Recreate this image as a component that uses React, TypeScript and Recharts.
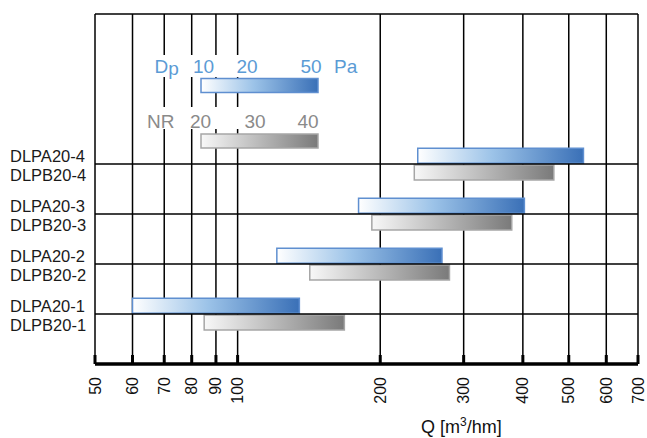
import React from "react";
import {
  Bar,
  BarChart,
  CartesianGrid,
  Cell,
  Customized,
  ReferenceLine,
  XAxis,
  YAxis,
} from "recharts";

// airflow range per damper model, Q in m3/hm (log axis)
const models = [
  "DLPA20-4",
  "DLPB20-4",
  "DLPA20-3",
  "DLPB20-3",
  "DLPA20-2",
  "DLPB20-2",
  "DLPA20-1",
  "DLPB20-1",
];
const qFrom = [240, 236, 180, 192, 121, 142, 60, 85];
const qTo = [537, 465, 403, 379, 270, 280, 135, 168];
const qTicks = [50, 60, 70, 80, 90, 100, 200, 300, 400, 500, 600, 700];

// legend scales (text only)
const dpLabels = ["10", "20", "50"];
const nrLabels = ["20", "30", "40"];

const FONT = '"Liberation Sans", Arial, sans-serif';

type Row = { name: string; q: [number, number] | null };

// 8 empty rows on top for the legend, one empty row after each A/B pair
const rows: Row[] = [];
for (let i = 0; i < 8; i++) rows.push({ name: `_top${i}`, q: null });
models.forEach((m, i) => {
  rows.push({ name: m, q: [qFrom[i], qTo[i]] });
  if (m.startsWith("DLPB")) rows.push({ name: `_gap${i}`, q: null });
});
rows.push({ name: "_end", q: null });

// horizontal rules sit on the top edge of each B row, plus the frame top
const ruleRows = ["_top0", ...models.filter((m) => m.startsWith("DLPB"))];

function XTick({ x, y, payload }: any) {
  return (
    <g>
      <line x1={x} x2={x} y1={y - 9} y2={y} stroke="#000" strokeWidth={3} />
      <text
        transform={`translate(${x + 5.5},${y + 13}) rotate(-90)`}
        textAnchor="end"
        fontSize={16}
        fontFamily={FONT}
        fill="#111"
      >
        {payload.value}
      </text>
    </g>
  );
}

function YTick({ y, payload }: any) {
  const v = String(payload.value);
  if (v.startsWith("_")) return null;
  const shift = v.startsWith("DLPB") ? 3 : 0.5;
  return (
    <text x={10} y={y + shift} dy="0.36em" fontSize={16.5} fontFamily={FONT} fill="#1a1a1a">
      {v}
    </text>
  );
}

function LegendArt() {
  const dpX = [193, 236.5, 300.5];
  const nrX = [190, 244.5, 297.5];
  return (
    <g fontFamily={FONT}>
      <rect x={146} y={55} width={216} height={22} fill="#fff" />
      <rect x={146} y={107} width={180} height={22} fill="#fff" />
      <text x={154.5} y={72.5} fontSize={19} fill="#5b9bd5">
        D<tspan dy={2}>p</tspan>
      </text>
      {dpLabels.map((t, i) => (
        <text key={t} x={dpX[i]} y={72.5} fontSize={19} fill="#5b9bd5">
          {t}
        </text>
      ))}
      <text x={334} y={72.5} fontSize={19} fill="#5b9bd5">
        Pa
      </text>
      <rect x={201} y={78.5} width={117} height={14} fill="url(#gradBlue)" stroke="#5f8fd0" strokeWidth={1.5} />
      <text x={147} y={127.5} fontSize={19} fill="#8a8a8a">
        NR
      </text>
      {nrLabels.map((t, i) => (
        <text key={t} x={nrX[i]} y={127.5} fontSize={19} fill="#8a8a8a">
          {t}
        </text>
      ))}
      <rect x={201} y={134} width={117} height={14} fill="url(#gradGray)" stroke="#a6a6a6" strokeWidth={1.5} />
      <text x={421} y={432.5} fontSize={18} fill="#111">
        Q [m<tspan fontSize={12} dy={-7}>3</tspan>
        <tspan dy={7}>/hm]</tspan>
      </text>
    </g>
  );
}

export default function App() {
  return (
    <div style={{ position: "absolute", left: 0, top: 0, width: 647, height: 438, background: "#fff" }}>
      <BarChart
        width={647}
        height={438}
        data={rows}
        layout="vertical"
        margin={{ top: 14, right: 9, bottom: 0, left: 0 }}
      >
        <defs>
          <linearGradient id="gradBlue" x1="0" y1="0" x2="1" y2="0">
            <stop offset="0%" stopColor="#ffffff" />
            <stop offset="45%" stopColor="#9cc3e8" />
            <stop offset="100%" stopColor="#3a70b7" />
          </linearGradient>
          <linearGradient id="gradGray" x1="0" y1="0" x2="1" y2="0">
            <stop offset="0%" stopColor="#f8f8f8" />
            <stop offset="100%" stopColor="#7a7a7a" />
          </linearGradient>
        </defs>
        <CartesianGrid stroke="#000" strokeWidth={1.5} horizontal={false} />
        {ruleRows.map((r) => (
          <ReferenceLine key={r} y={r} position="start" stroke="#000" strokeWidth={1.5} />
        ))}
        <Customized component={LegendArt} />
        <XAxis
          type="number"
          scale="log"
          domain={[50, 700]}
          ticks={qTicks}
          interval={0}
          allowDataOverflow
          height={74}
          tickSize={0}
          tickMargin={0}
          tickLine={false}
          axisLine={{ stroke: "#000", strokeWidth: 3.5 }}
          tick={<XTick />}
        />
        <YAxis
          type="category"
          dataKey="name"
          width={95}
          interval={0}
          axisLine={false}
          tickLine={false}
          tick={<YTick />}
        />
        <Bar dataKey="q" barSize={15} isAnimationActive={false}>
          {rows.map((r) => {
            const gray = r.name.startsWith("DLPB");
            return (
              <Cell
                key={r.name}
                fill={gray ? "url(#gradGray)" : "url(#gradBlue)"}
                stroke={gray ? "#a6a6a6" : "#5f8fd0"}
                strokeWidth={1.5}
              />
            );
          })}
        </Bar>
      </BarChart>
    </div>
  );
}
